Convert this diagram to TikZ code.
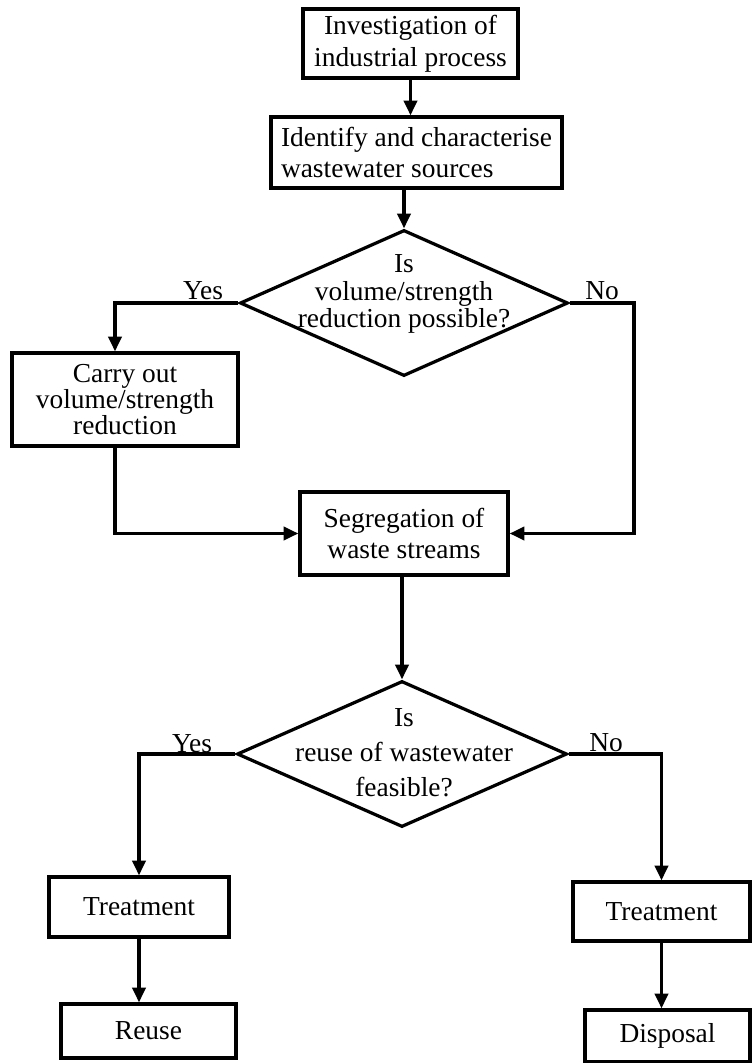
\documentclass[tikz,border=0pt]{standalone}
\usepackage{fontspec}
\setmainfont{Liberation Serif}
\usetikzlibrary{shapes.geometric,arrows.meta}
\tikzstyle{every node}=[font=\fontsize{19.5}{22.5}\selectfont]
\tikzstyle{stepbox}=[draw, rectangle, inner sep=0pt, align=center]
\tikzstyle{decision}=[draw, diamond, inner sep=0pt]
\tikzstyle{flow}=[-{Triangle[length=0.37cm,width=0.33cm]}]

\begin{document}
\begin{tikzpicture}[x=0.025cm, y=-0.025cm, line width=2.3pt]
    \useasboundingbox (0,0) rectangle (751,1063);
% Boxes
    \node[stepbox, minimum width=5.375cm, minimum height=1.725cm] (invest) at (410.5,43.5) {Investigation of\\industrial process};
    \node[stepbox, align=left, minimum width=7.275cm, minimum height=1.775cm] (ident) at (416.5,152.5) {Identify and characterise\\wastewater sources};
    \node[stepbox, minimum width=5.65cm, minimum height=2.325cm, font=\fontsize{19.5}{18.5}\selectfont] (carry) at (125,399.5) {Carry out\\volume/strength\\reduction};
    \node[stepbox, minimum width=5.2cm, minimum height=2.075cm] (segr) at (404,533.5) {Segregation of\\waste streams};
    \node[stepbox, minimum width=4.5cm, minimum height=1.5cm] (treatA) at (139,907) {Treatment};
    \node[stepbox, minimum width=4.375cm, minimum height=1.35cm] (reuse) at (148.5,1031) {Reuse};
    \node[stepbox, minimum width=4.425cm, minimum height=1.475cm] (treatB) at (661.5,911.5) {Treatment};
    \node[stepbox, minimum width=4.125cm, minimum height=1.3cm] (disp) at (667.5,1036) {Disposal};
% Decisions
    \node[decision, minimum width=8.2cm, minimum height=3.65cm] (reduce) at (404,303) {};
    \node[align=center, font=\fontsize{19.5}{19.5}\selectfont] (reducetext) at (404,294) {Is\\volume/strength\\reduction possible?};
    \node[decision, minimum width=8.25cm, minimum height=3.65cm] (reusable) at (402,754) {};
    \node[align=center, font=\fontsize{19.5}{25}\selectfont] (reusabletext) at (404,753) {Is\\reuse of wastewater\\feasible?};
    \node (yesA) at (203,291) {Yes};
    \node (noA) at (602,291) {No};
    \node (yesB) at (192,744) {Yes};
    \node (noB) at (606,743) {No};
% Connections
    \coordinate (noAcorner) at (634,303);
    \draw[flow] (invest.south) -- (invest.south |- ident.north);
    \draw[flow] (reduce.north |- ident.south) -- (reduce.north);
    \draw[flow] (reduce.west) -| ([xshift=-0.25cm]carry.north);
    \draw[flow] ([xshift=-0.25cm]carry.south) |- (segr.west);
    \draw[flow] (reduce.east) -- (noAcorner) |- (segr.east);
    \draw[flow] (reusable.north |- segr.south) -- (reusable.north);
    \draw[flow] (reusable.west) -| (treatA.north);
    \draw[flow] (treatA.south) -- (treatA.south |- reuse.north);
    \draw[flow] (reusable.east) -| (treatB.north);
    \draw[flow] (treatB.south) -- (treatB.south |- disp.north);
\end{tikzpicture}
\end{document}
